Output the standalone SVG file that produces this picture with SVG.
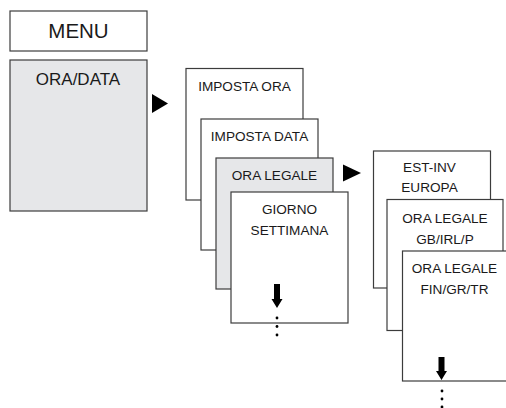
<svg xmlns="http://www.w3.org/2000/svg" width="506" height="408" viewBox="0 0 506 408">
<style>
.box{fill:#ffffff;stroke:#3c3c3c;stroke-width:1.2}
.gray{fill:#e6e7e9}
text{font-family:"Liberation Sans",Arial,sans-serif;fill:#1a1a1a;text-anchor:middle}
.t{font-size:13.6px}
.tri{fill:#000}
</style>
<rect width="506" height="408" fill="#ffffff"/>
<g id="menu">
<rect class="box" x="10" y="11" width="137" height="40"/>
<text x="78.5" y="37.5" style="font-size:20.5px">MENU</text>
</g>
<g id="ora-data">
<rect class="box gray" x="10" y="60" width="137" height="151"/>
<text x="78" y="85" style="font-size:17px">ORA/DATA</text>
</g>
<g id="imposta-ora">
<rect class="box" x="186" y="68.5" width="117" height="131.5"/>
<text class="t" x="244.5" y="90.5">IMPOSTA ORA</text>
</g>
<g id="imposta-data">
<rect class="box" x="201" y="119" width="117" height="131"/>
<text class="t" x="259.5" y="141">IMPOSTA DATA</text>
</g>
<g id="ora-legale">
<rect class="box gray" x="216" y="158" width="117" height="131"/>
<text class="t" x="274.5" y="180">ORA LEGALE</text>
</g>
<g id="giorno-settimana">
<rect class="box" x="231" y="192" width="117" height="131"/>
<text class="t" x="289.5" y="214">GIORNO</text>
<text class="t" x="289.5" y="234.5">SETTIMANA</text>
</g>
<g id="est-inv-europa">
<rect class="box" x="373.5" y="151" width="117" height="137"/>
<text class="t" x="429.5" y="172">EST-INV</text>
<text class="t" x="429.5" y="192">EUROPA</text>
</g>
<g id="ora-legale-gb">
<rect class="box" x="387" y="199.5" width="116" height="131"/>
<text class="t" x="445" y="223">ORA LEGALE</text>
<text class="t" x="445" y="243.5">GB/IRL/P</text>
</g>
<g id="ora-legale-fin">
<rect class="box" x="402.5" y="251" width="117" height="130"/>
<text class="t" x="454.5" y="273">ORA LEGALE</text>
<text class="t" x="454.5" y="293.5">FIN/GR/TR</text>
</g>
<g id="connectors">
<polygon class="tri" points="152,94 168,103.5 152,113"/>
<polygon class="tri" points="343,164.5 361,173 343,181.5"/>
<polygon class="tri" points="274,284 280,284 280,299 282.5,299 277,308 271.5,299 274,299"/>
<circle cx="277" cy="318" r="1.4"/>
<circle cx="277" cy="326.5" r="1.4"/>
<circle cx="277" cy="335" r="1.4"/>
<polygon class="tri" points="438.5,357 444.5,357 444.5,371 447,371 441.5,380 436,371 438.5,371"/>
<circle cx="442" cy="391" r="1.4"/>
<circle cx="442" cy="399" r="1.4"/>
<circle cx="442" cy="407" r="1.4"/>
</g>
</svg>
